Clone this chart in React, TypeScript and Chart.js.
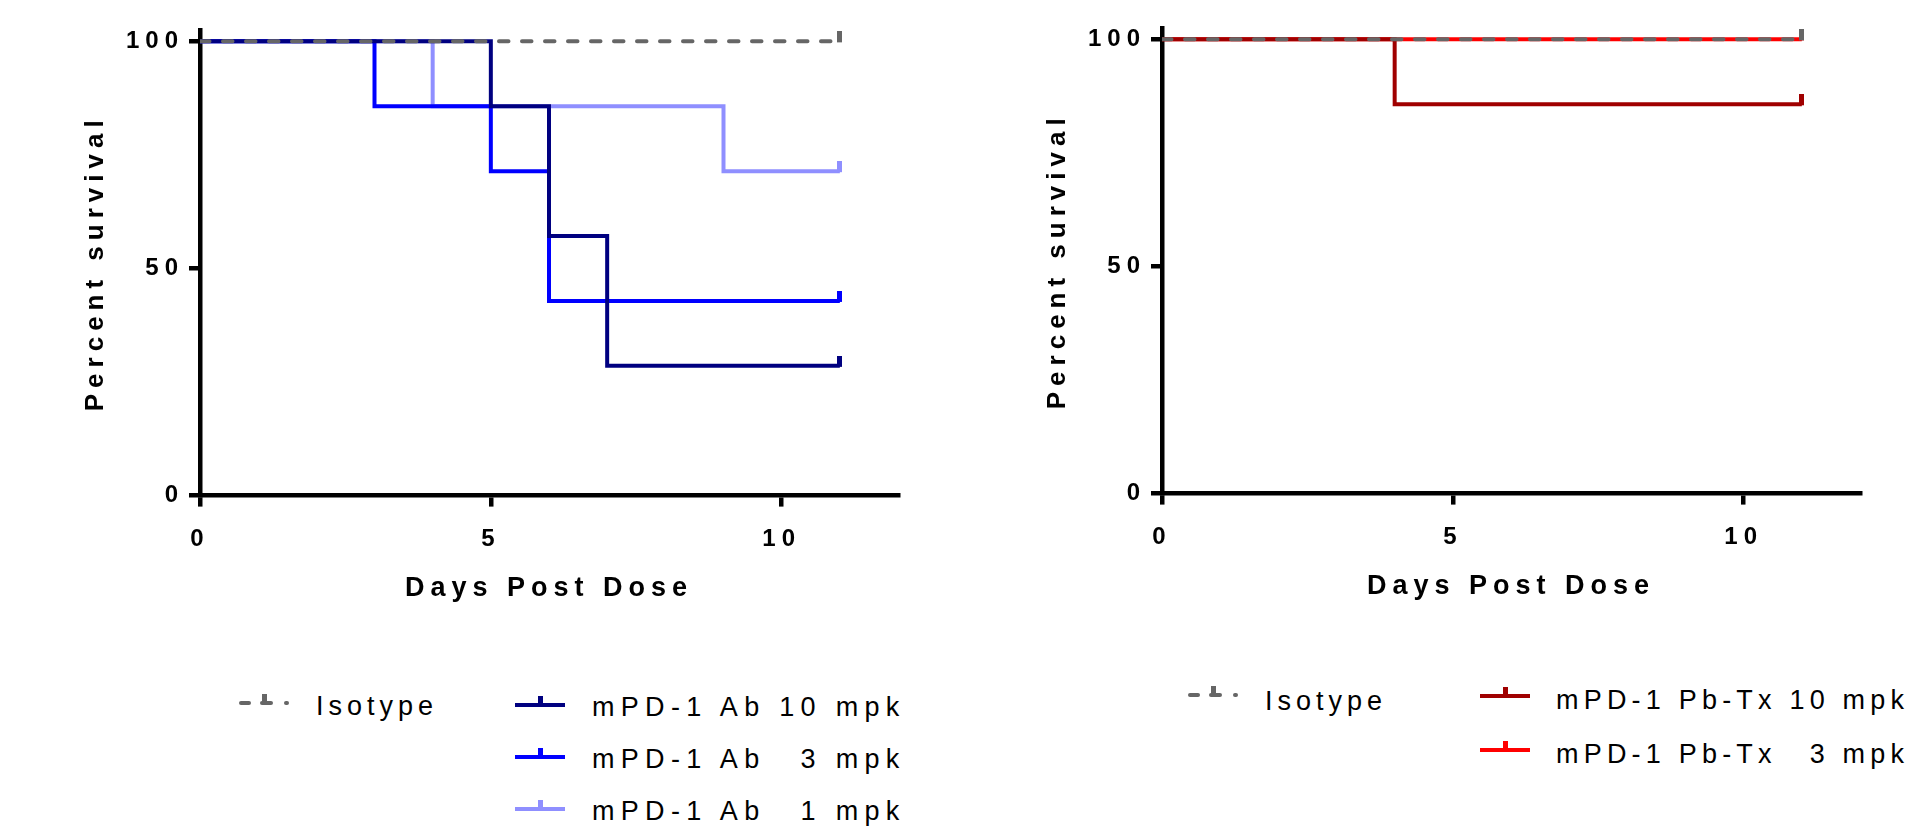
import React, { useEffect, useRef } from 'react';
import { Chart, registerables } from 'chart.js';

Chart.register(...registerables);

// ---------- data ----------
const X_TICKS = [0, 5, 10];
const Y_TICKS = [0, 50, 100];
const X_MAX = 12;
const Y_MAX = 102.5;

const ISOTYPE_DAYS = [0, 11];
const ISOTYPE_SURVIVAL = [100, 100];

const AB10_DAYS = [0, 5, 6, 7, 11];
const AB10_SURVIVAL = [100, 85.71, 57.14, 28.57, 28.57];

const AB3_DAYS = [0, 3, 5, 6, 11];
const AB3_SURVIVAL = [100, 85.71, 71.43, 42.86, 42.86];

const AB1_DAYS = [0, 4, 9, 11];
const AB1_SURVIVAL = [100, 85.71, 71.43, 71.43];

const PB10_DAYS = [0, 4, 11];
const PB10_SURVIVAL = [100, 85.71, 85.71];

const PB3_DAYS = [0, 11];
const PB3_SURVIVAL = [100, 100];

const LEFT_LABELS = ['Isotype', 'mPD-1 Ab 10 mpk', 'mPD-1 Ab \u20073 mpk', 'mPD-1 Ab \u20071 mpk'];
const RIGHT_LABELS = ['Isotype', 'mPD-1 Pb-Tx 10 mpk', 'mPD-1 Pb-Tx \u20073 mpk'];

const X_TITLE = 'Days Post Dose';
const Y_TITLE = 'Percent survival';

// ---------- styles ----------
const GRAY = '#666666';
const NAVY = '#000080';
const BLUE = '#0000FF';
const LIGHT_BLUE = '#8F8FFF';
const DARK_RED = '#A00000';
const RED = '#FF0000';

const FONT_FAMILY = '"Liberation Sans", Arial, Helvetica, sans-serif';
const CANVAS_W = 946;
const CANVAS_H = 640;
const PLOT_BOTTOM = 495.6;
const X_AXIS_H = 109;

function censorMark(color: string) {
  const c = document.createElement('canvas');
  c.width = 5;
  c.height = 20;
  const g = c.getContext('2d')!;
  g.fillStyle = color;
  g.fillRect(0, 0, 5, 11);
  return c;
}

const spacingPlugin = {
  id: 'letterSpacingPlugin',
  beforeUpdate(chart: any) {
    (chart.ctx as any).letterSpacing = '6px';
  },
  beforeDraw(chart: any) {
    (chart.ctx as any).letterSpacing = '6px';
  },
};

function makeDataset(label: string, days: number[], surv: number[], color: string, dashed: boolean) {
  const n = days.length;
  const mark = censorMark(color);
  return {
    label,
    data: days.map((d, i) => ({ x: d, y: surv[i] })),
    borderColor: color,
    backgroundColor: color,
    borderWidth: 4,
    borderDash: dashed ? [9.5, 13.5] : [],
    borderCapStyle: dashed ? 'round' : 'butt',
    borderJoinStyle: 'miter',
    stepped: true,
    fill: false,
    tension: 0,
    pointStyle: mark,
    pointRadius: (ctx: any) => (ctx.dataIndex === n - 1 ? 5 : 0),
    pointHoverRadius: 0,
  };
}

function buildOptions() {
  const tickFont = { family: FONT_FAMILY, size: 24, weight: 'bold' as const };
  const xTitleFont = { family: FONT_FAMILY, size: 27, weight: 'bold' as const };
  const yTitleFont = { family: FONT_FAMILY, size: 26, weight: 'bold' as const };
  const grid = {
    display: true,
    drawOnChartArea: false,
    drawTicks: true,
    tickLength: 11,
    tickWidth: 4.5,
    tickColor: '#000',
    lineWidth: 4.5,
    color: '#000',
  };
  const border = { display: true, width: 4.5, color: '#000' };
  return {
    responsive: false,
    maintainAspectRatio: false,
    animation: false,
    devicePixelRatio: 1,
    events: [],
    layout: {
      padding: { left: 0, top: 30, right: CANVAS_W - 898, bottom: CANVAS_H - PLOT_BOTTOM - X_AXIS_H },
    },
    plugins: { legend: { display: false }, tooltip: { enabled: false }, title: { display: false } },
    scales: {
      x: {
        type: 'linear',
        min: 0,
        max: X_MAX,
        afterBuildTicks: (s: any) => {
          s.ticks = X_TICKS.map((v) => ({ value: v }));
        },
        afterFit: (s: any) => {
          s.height = X_AXIS_H;
        },
        grid,
        border,
        ticks: { padding: 18, color: '#000', font: tickFont, maxRotation: 0, autoSkip: false },
        title: { display: true, text: X_TITLE, color: '#000', font: xTitleFont, padding: { top: 0, bottom: 0 } },
      },
      y: {
        type: 'linear',
        min: 0,
        max: Y_MAX,
        afterBuildTicks: (s: any) => {
          s.ticks = Y_TICKS.map((v) => ({ value: v }));
        },
        afterFit: (s: any) => {
          s.width = 200;
        },
        grid,
        border,
        ticks: { padding: 5, color: '#000', font: tickFont, autoSkip: false },
        title: { display: true, text: Y_TITLE, color: '#000', font: yTitleFont, padding: { top: 80, bottom: 0 } },
      },
    },
  };
}

function SurvivalChart({ datasets, left, top }: { datasets: any[]; left: number; top: number }) {
  const ref = useRef<HTMLCanvasElement | null>(null);
  useEffect(() => {
    if (!ref.current) return;
    const chart = new Chart(ref.current, {
      type: 'line',
      data: { datasets },
      options: buildOptions() as any,
      plugins: [spacingPlugin],
    } as any);
    return () => chart.destroy();
  }, []);
  return (
    <canvas
      ref={ref}
      width={CANVAS_W}
      height={CANVAS_H}
      style={{ position: 'absolute', left, top, width: CANVAS_W, height: CANVAS_H }}
    />
  );
}

function SolidMarker({ left, cy, color }: { left: number; cy: number; color: string }) {
  return (
    <>
      <div style={{ position: 'absolute', left, top: cy - 2.25, width: 50, height: 4.5, background: color }} />
      <div style={{ position: 'absolute', left: left + 23, top: cy - 9, width: 4.5, height: 9, background: color }} />
    </>
  );
}

function DashedMarker({ left, cy, color }: { left: number; cy: number; color: string }) {
  const seg = (x: number, w: number) => (
    <div
      key={x}
      style={{ position: 'absolute', left: left + x, top: cy - 2.25, width: w, height: 4.5, background: color, borderRadius: 2.25 }}
    />
  );
  return (
    <>
      {seg(0, 12)}
      {seg(21, 13)}
      {seg(45, 4.5)}
      <div style={{ position: 'absolute', left: left + 23, top: cy - 9.5, width: 4.5, height: 9.5, background: color }} />
    </>
  );
}

function LegendText({ left, baseline, text, spacing }: { left: number; baseline: number; text: string; spacing: number }) {
  return (
    <div
      style={{
        position: 'absolute',
        left,
        top: baseline - 23,
        fontFamily: FONT_FAMILY,
        fontSize: 27,
        lineHeight: '27px',
        letterSpacing: spacing + 'px',
        whiteSpace: 'pre',
        color: '#000',
      }}
    >
      {text}
    </div>
  );
}

export default function App() {
  const leftDatasets = [
    makeDataset(LEFT_LABELS[0], ISOTYPE_DAYS, ISOTYPE_SURVIVAL, GRAY, true),
    makeDataset(LEFT_LABELS[1], AB10_DAYS, AB10_SURVIVAL, NAVY, false),
    makeDataset(LEFT_LABELS[2], AB3_DAYS, AB3_SURVIVAL, BLUE, false),
    makeDataset(LEFT_LABELS[3], AB1_DAYS, AB1_SURVIVAL, LIGHT_BLUE, false),
  ];
  const rightDatasets = [
    makeDataset(RIGHT_LABELS[0], ISOTYPE_DAYS, ISOTYPE_SURVIVAL, GRAY, true),
    makeDataset(RIGHT_LABELS[1], PB10_DAYS, PB10_SURVIVAL, DARK_RED, false),
    makeDataset(RIGHT_LABELS[2], PB3_DAYS, PB3_SURVIVAL, RED, false),
  ];
  const leftColors = [NAVY, BLUE, LIGHT_BLUE];
  const rightColors = [DARK_RED, RED];
  const leftRows = [705, 757, 809];
  const rightRows = [696, 750];
  return (
    <div
      style={{
        position: 'fixed',
        left: 0,
        top: 0,
        width: 1908,
        height: 834,
        overflow: 'hidden',
        background: '#fff',
      }}
    >
      <SurvivalChart datasets={leftDatasets} left={0} top={0} />
      <SurvivalChart datasets={rightDatasets} left={962} top={-2} />

      <DashedMarker left={239} cy={703} color={GRAY} />
      <LegendText left={316} baseline={716} text={LEFT_LABELS[0]} spacing={5} />
      {leftColors.map((c, i) => (
        <React.Fragment key={'l' + i}>
          <SolidMarker left={515} cy={leftRows[i]} color={c} />
          <LegendText left={592} baseline={leftRows[i] + 12} text={LEFT_LABELS[i + 1]} spacing={6.3} />
        </React.Fragment>
      ))}

      <DashedMarker left={1188} cy={695} color={GRAY} />
      <LegendText left={1265} baseline={711} text={RIGHT_LABELS[0]} spacing={5} />
      {rightColors.map((c, i) => (
        <React.Fragment key={'r' + i}>
          <SolidMarker left={1480} cy={rightRows[i]} color={c} />
          <LegendText left={1556} baseline={rightRows[i] + 14} text={RIGHT_LABELS[i + 1]} spacing={5.2} />
        </React.Fragment>
      ))}
    </div>
  );
}
